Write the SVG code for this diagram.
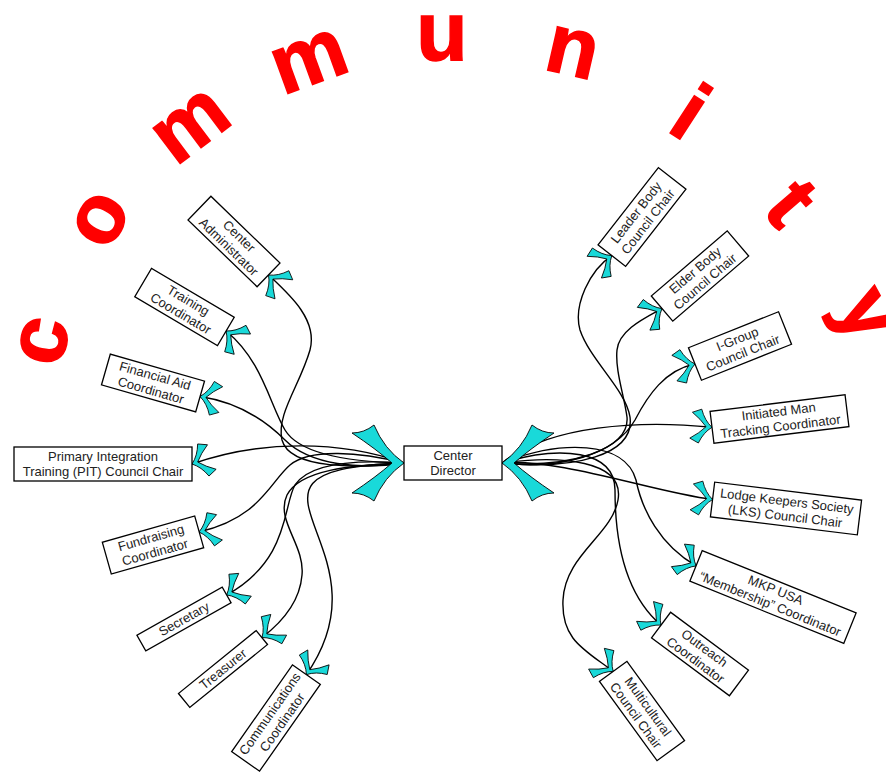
<svg xmlns="http://www.w3.org/2000/svg" width="886" height="773" viewBox="0 0 886 773">
<style>
.box{fill:#fff;stroke:#000;stroke-width:1.3}
.lbl{font-family:"Liberation Sans",Arial,sans-serif;font-size:13px;fill:#222;text-anchor:middle}
.con{fill:none;stroke:#000;stroke-width:1.4;marker-end:url(#ah)}
.big{fill:#19d9d9;stroke:#000;stroke-width:0.9}
.let{font-family:"Liberation Sans",Arial,sans-serif;font-weight:bold;font-size:84px;fill:#f00;stroke:#f00;stroke-width:1.5;text-anchor:middle}
</style>
<defs>
<marker id="ah" markerUnits="userSpaceOnUse" markerWidth="50" markerHeight="50" viewBox="-25 -25 50 50" refX="0" refY="0" orient="auto" overflow="visible">
<path d="M0,0 Q-8,-6 -12,-17 L-21,-13 Q-12,-7 -6,0 Q-12,7 -21,13 L-12,17 Q-8,6 0,0 Z" fill="#19d9d9" stroke="#000" stroke-width="0.8"/>
</marker>
</defs>
<rect width="886" height="773" fill="#fff"/>
<g id="title">
<g transform="translate(44,341) rotate(-78)"><text class="let" x="0" y="22">c</text></g>
<g transform="translate(101,220) rotate(-62)"><text class="let" x="0" y="22">o</text></g>
<g transform="translate(192,127) rotate(-37)"><text class="let" x="0" y="22">m</text></g>
<g transform="translate(310,62) rotate(-20)"><text class="let" x="0" y="22">m</text></g>
<g transform="translate(442,38)"><text class="let" x="0" y="22">u</text></g>
<g transform="translate(572,53) rotate(13)"><text class="let" x="0" y="22">n</text></g>
<g transform="translate(692,110) rotate(33)"><text class="let" x="0" y="31">i</text></g>
<g transform="translate(792,202) rotate(49)"><text class="let" x="0" y="29">t</text></g>
<g transform="translate(846,326) rotate(62)"><text class="let" x="0" y="0">y</text></g>
</g>
<g id="connectors">
<path class="con" d="M404,463 C360,468 290,470 282,440 C276,415 300,385 310,350 C318,320 290,295 268.5,275"/>
<path class="con" d="M404,463 C350,462 300,455 285,430 C270,405 262,360 226,331"/>
<path class="con" d="M404,463 C360,470 310,465 285,440 C265,420 237,402 200,396.5"/>
<path class="con" d="M404,463 C340,440 260,440 192,464"/>
<path class="con" d="M404,463 C360,452 310,448 290,465 C270,482 260,518 199,532"/>
<path class="con" d="M404,463 C360,460 310,462 295,485 C283,505 290,560 226.6,594.9"/>
<path class="con" d="M404,463 C350,465 300,470 287,495 C275,520 305,545 302,575 C300,600 285,620 262,637.5"/>
<path class="con" d="M404,463 C200,470 398,543.6 306.4,674.6"/>
<path class="con" d="M502,463 C575,470 635,455 630,417 C626,390 590,360 580,330 C573,305 590,270 611.8,255.6"/>
<path class="con" d="M502,463 C570,468 630,450 627,417 C624,395 615,370 617,350 C619,330 645,318 662,308.6"/>
<path class="con" d="M502,463 C560,470 615,455 635,420 C648,395 665,370 695,364"/>
<path class="con" d="M502,463 C550,425 640,420 712,427.3"/>
<path class="con" d="M502,463 C560,458 653,492 712.6,499.5"/>
<path class="con" d="M502,463 C560,440 625,440 636,480 C642,510 660,545 696.1,565.9"/>
<path class="con" d="M502,463 C560,445 615,450 615,490 C615,530 620,590 661,625.1"/>
<path class="con" d="M502,463 C560,455 625,460 618,500 C612,535 565,555 563,600 C561,640 585,650 613.2,671.4"/>
<path class="big" transform="translate(404,463)" d="M0,0 Q-20,-14 -30,-38 Q-40,-30 -52,-30 Q-28,-14 -12,0 Q-28,14 -52,30 Q-40,30 -30,38 Q-20,14 0,0 Z"/>
<path class="big" transform="translate(502,463) scale(-1,1)" d="M0,0 Q-20,-14 -30,-38 Q-40,-30 -52,-30 Q-28,-14 -12,0 Q-28,14 -52,30 Q-40,30 -30,38 Q-20,14 0,0 Z"/>
</g>
<g id="center-director">
<rect class="box" x="404" y="446" width="98" height="34"/>
<text class="lbl"><tspan x="453" y="460">Center</tspan><tspan x="453" y="475">Director</tspan></text>
</g>
<g id="center-administrator" transform="translate(234,241.5) rotate(44)">
<rect class="box" x="-48" y="-16.5" width="96" height="33"/>
<text class="lbl"><tspan x="0" y="-3">Center</tspan><tspan x="0" y="12">Administrator</tspan></text>
</g>
<g id="training-coordinator" transform="translate(184.5,307) rotate(30.5)">
<rect class="box" x="-48" y="-16.5" width="96" height="33"/>
<text class="lbl"><tspan x="0" y="-3">Training</tspan><tspan x="0" y="12">Coordinator</tspan></text>
</g>
<g id="financial-aid" transform="translate(153,383) rotate(16)">
<rect class="box" x="-49" y="-16" width="98" height="32"/>
<text class="lbl"><tspan x="0" y="-3">Financial Aid</tspan><tspan x="0" y="12">Coordinator</tspan></text>
</g>
<g id="pit-chair">
<rect class="box" x="14" y="447" width="178" height="34"/>
<text class="lbl"><tspan x="103" y="461">Primary Integration</tspan><tspan x="103" y="476">Training (PIT) Council Chair</tspan></text>
</g>
<g id="fundraising" transform="translate(153,545) rotate(-15.8)">
<rect class="box" x="-48" y="-16.5" width="96" height="33"/>
<text class="lbl"><tspan x="0" y="-3">Fundraising</tspan><tspan x="0" y="12">Coordinator</tspan></text>
</g>
<g id="secretary" transform="translate(184,619) rotate(-29.5)">
<rect class="box" x="-49" y="-9" width="98" height="18"/>
<text class="lbl" x="0" y="4.5">Secretary</text>
</g>
<g id="treasurer" transform="translate(223,669) rotate(-39)">
<rect class="box" x="-50" y="-9" width="100" height="18"/>
<text class="lbl" x="0" y="4.5">Treasurer</text>
</g>
<g id="communications" transform="translate(276,718) rotate(-55)">
<rect class="box" x="-53" y="-17" width="106" height="34"/>
<text class="lbl"><tspan x="0" y="-3">Communications</tspan><tspan x="0" y="12">Coordinator</tspan></text>
</g>
<g id="leader-body" transform="translate(642,217) rotate(-52)">
<rect class="box" x="-49" y="-17.5" width="98" height="35"/>
<text class="lbl"><tspan x="0" y="-3">Leader Body</tspan><tspan x="0" y="12">Council Chair</tspan></text>
</g>
<g id="elder-body" transform="translate(700,276) rotate(-40.6)">
<rect class="box" x="-50" y="-16.5" width="100" height="33"/>
<text class="lbl"><tspan x="0" y="-3">Elder Body</tspan><tspan x="0" y="12">Council Chair</tspan></text>
</g>
<g id="i-group" transform="translate(740,346) rotate(-21.8)">
<rect class="box" x="-48.5" y="-17.5" width="97" height="35"/>
<text class="lbl"><tspan x="0" y="-3">I-Group</tspan><tspan x="0" y="12">Council Chair</tspan></text>
</g>
<g id="initiated-man" transform="translate(779.5,419) rotate(-7)">
<rect class="box" x="-68" y="-16" width="136" height="32"/>
<text class="lbl"><tspan x="0" y="-3">Initiated Man</tspan><tspan x="0" y="12">Tracking Coordinator</tspan></text>
</g>
<g id="lodge-keepers" transform="translate(786,508.5) rotate(7)">
<rect class="box" x="-74" y="-17.5" width="148" height="35"/>
<text class="lbl"><tspan x="0" y="-3">Lodge Keepers Society</tspan><tspan x="0" y="12">(LKS) Council Chair</tspan></text>
</g>
<g id="mkp-usa" transform="translate(773,597) rotate(22)">
<rect class="box" x="-83" y="-16.5" width="166" height="33"/>
<text class="lbl"><tspan x="0" y="-3">MKP USA</tspan><tspan x="0" y="12">“Membership” Coordinator</tspan></text>
</g>
<g id="outreach" transform="translate(700,654) rotate(36.6)">
<rect class="box" x="-48.5" y="-16" width="97" height="32"/>
<text class="lbl"><tspan x="0" y="-3">Outreach</tspan><tspan x="0" y="12">Coordinator</tspan></text>
</g>
<g id="multicultural" transform="translate(642,711) rotate(54)">
<rect class="box" x="-49" y="-17" width="98" height="34"/>
<text class="lbl"><tspan x="0" y="-3">Multicultural</tspan><tspan x="0" y="12">Council Chair</tspan></text>
</g>
</svg>
